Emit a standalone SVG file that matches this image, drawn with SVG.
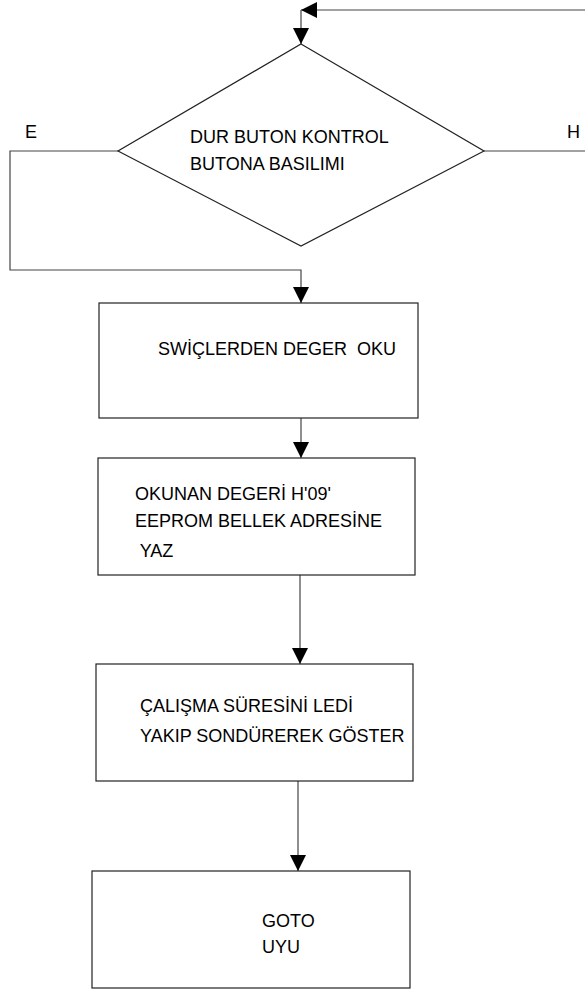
<svg xmlns="http://www.w3.org/2000/svg" width="585" height="989" viewBox="0 0 585 989">
  <style>
    .shape { fill: #ffffff; stroke: #222222; stroke-width: 1.2; }
    .edge { fill: none; stroke: #444444; stroke-width: 1.2; }
    .lbl { font-family: "Liberation Sans", Arial, sans-serif; font-size: 18px; fill: #000000; }
  </style>
  <defs>
    <marker id="arrow" viewBox="0 0 16 16" refX="16" refY="8" markerWidth="16" markerHeight="16" markerUnits="userSpaceOnUse" orient="auto">
      <path d="M0,0 L16,8 L0,16 Z" fill="#000000"/>
    </marker>
  </defs>
  <rect width="585" height="989" fill="#ffffff"/>

  <g id="connectors">
    <!-- loop back from the right edge into the decision -->
    <polyline class="edge" points="585,10 301,10" marker-end="url(#arrow)"/>
    <polyline class="edge" points="301,10 301,44" marker-end="url(#arrow)"/>
    <!-- H branch -->
    <polyline class="edge" points="484,151 585,151"/>
    <!-- E branch -->
    <polyline class="edge" points="118,151 10,151 10,270 301,270 301,303" marker-end="url(#arrow)"/>
    <polyline class="edge" points="301,418 301,458" marker-end="url(#arrow)"/>
    <polyline class="edge" points="300,575 300,664" marker-end="url(#arrow)"/>
    <polyline class="edge" points="298,781 298,871" marker-end="url(#arrow)"/>
  </g>

  <g id="label-e"><text class="lbl" x="25" y="138">E</text></g>
  <g id="label-h"><text class="lbl" x="567" y="138">H</text></g>

  <g id="decision">
    <polygon class="shape" points="301,44 484,151 301,246 118,151"/>
    <text class="lbl" x="190" y="143">DUR BUTON KONTROL</text>
    <text class="lbl" x="190" y="170">BUTONA BASILIMI</text>
  </g>

  <g id="read-switches">
    <rect class="shape" x="99" y="303" width="319" height="115"/>
    <text class="lbl" x="158" y="355" xml:space="preserve">SWİÇLERDEN DEGER  OKU</text>
  </g>

  <g id="write-eeprom">
    <rect class="shape" x="98" y="458" width="317" height="117"/>
    <text class="lbl" x="135" y="500">OKUNAN DEGERİ H'09'</text>
    <text class="lbl" x="135" y="527">EEPROM BELLEK ADRESİNE</text>
    <text class="lbl" x="135" y="557" xml:space="preserve"> YAZ</text>
  </g>

  <g id="show-time">
    <rect class="shape" x="96" y="664" width="317" height="117"/>
    <text class="lbl" x="140" y="712">ÇALIŞMA SÜRESİNİ LEDİ</text>
    <text class="lbl" x="140" y="742">YAKIP SONDÜREREK GÖSTER</text>
  </g>

  <g id="goto-sleep">
    <rect class="shape" x="92" y="871" width="318" height="117"/>
    <text class="lbl" x="262" y="927">GOTO</text>
    <text class="lbl" x="262" y="953">UYU</text>
  </g>
</svg>
